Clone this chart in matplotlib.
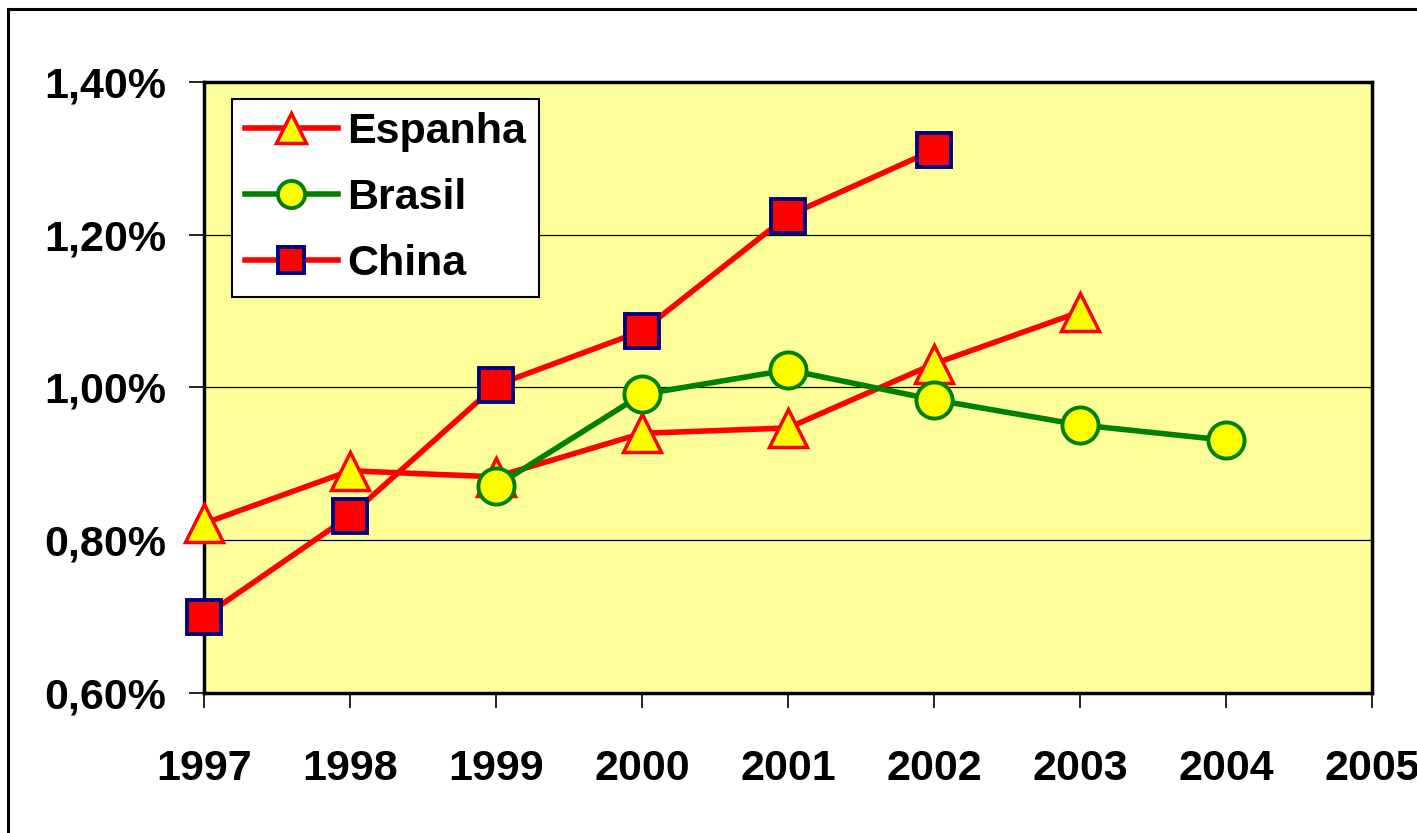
import numpy as np
import matplotlib.pyplot as plt
from matplotlib.ticker import FuncFormatter, MultipleLocator
from matplotlib.patches import Rectangle

plt.rcParams['font.family'] = ['Liberation Sans', 'DejaVu Sans']
plt.rcParams['font.weight'] = 'bold'

# share values (percent)
years_esp = [1997, 1998, 1999, 2000, 2001, 2002, 2003]
espanha = [0.822, 0.891, 0.883, 0.940, 0.947, 1.031, 1.099]

years_bra = [1999, 2000, 2001, 2002, 2003, 2004]
brasil = [0.871, 0.991, 1.023, 0.984, 0.951, 0.931]

years_chn = [1997, 1998, 1999, 2000, 2001, 2002]
china = [0.700, 0.832, 1.003, 1.074, 1.225, 1.311]

fig = plt.figure(figsize=(14.17, 8.33), dpi=100)
ax = fig.add_axes([204/1417, 1 - 693/833, (1372-204)/1417, (693-82)/833])
ax.set_facecolor('#FFFF99')

# outer chart frame (right and bottom edges fall outside the picture)
fig.patches.append(Rectangle((8/1417, -0.1), 1.2, 1 - 9/833 + 0.1, transform=fig.transFigure,
                             fill=False, edgecolor='black', linewidth=2.2, zorder=0))

ax.plot(years_esp, espanha, color='red', lw=4, marker='^', ms=28,
        mfc='yellow', mec='red', mew=2.5, label='Espanha', zorder=3, clip_on=False)
ax.plot(years_bra, brasil, color='green', lw=4, marker='o', ms=26,
        mfc='yellow', mec='green', mew=2.8, label='Brasil', zorder=4, clip_on=False)
ax.plot(years_chn, china, color='red', lw=4, marker='s', ms=25,
        mfc='red', mec='#000080', mew=2.8, label='China', zorder=5, clip_on=False)

ax.set_xlim(1997, 2005)
ax.set_ylim(0.6, 1.4)
ax.xaxis.set_major_locator(MultipleLocator(1))
ax.yaxis.set_major_locator(MultipleLocator(0.2))
ax.yaxis.set_major_formatter(FuncFormatter(lambda v, p: f"{v:.2f}%".replace('.', ',')))
ax.grid(axis='y', color='black', lw=0.9)
ax.set_axisbelow(True)

for s in ax.spines.values():
    s.set_linewidth(2.5)
ax.tick_params(axis='x', direction='out', length=11, width=1.2, pad=29, labelsize=31)
ax.tick_params(axis='y', direction='out', length=11, width=1.2, pad=16, labelsize=31)
for t in ax.get_xticklabels() + ax.get_yticklabels():
    t.set_fontweight('bold')

leg = ax.legend(loc='upper left', bbox_to_anchor=(0.024, 0.972), borderaxespad=0,
                fancybox=False, framealpha=1, edgecolor='black', prop={'size': 31, 'weight': 'bold'},
                handlelength=2.15, labelspacing=0.6, handletextpad=0.22, borderpad=0.3,
                markerscale=0.75)
leg.get_frame().set_linewidth(1.5)

fig.savefig('out.png', dpi=100)
